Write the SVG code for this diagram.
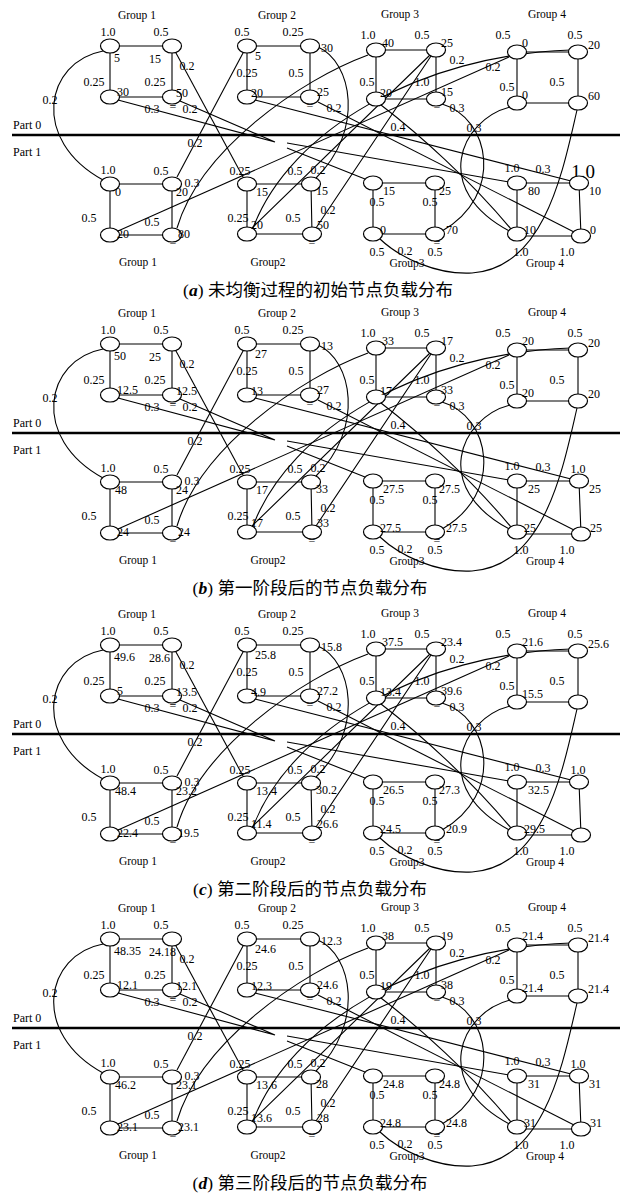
<svg xmlns="http://www.w3.org/2000/svg" xmlns:xlink="http://www.w3.org/1999/xlink" width="620" height="1196" viewBox="0 0 620 1196">
<style>
.t{font-family:"Liberation Serif","Times New Roman",serif;font-size:12px;fill:#000}
.m{text-anchor:middle}
.g{font-size:11.5px}
.cap{font-family:"Liberation Serif","Noto Sans CJK SC",serif;font-size:17.5px;text-anchor:middle;fill:#000}
.c{fill:none;stroke:#000;stroke-width:1.1}
.n{fill:#fff;stroke:#000;stroke-width:1.2}
.pl{stroke:#000;stroke-width:2.6}
</style>
<defs>
<ellipse id="nd" class="n" cx="0" cy="0" rx="9.5" ry="7"/>
<g id="conn" class="c">
<path d="M110,46 H172 V97 H110 Z M247,46 H310 V97 H247 Z M376,50 H436 V99 H376 Z M517,52 H578 V103 H517 Z"/>
<path d="M110,184 H172 V235 H110 Z M247,184 H311 L312,234 H247 Z M373,183 H435 V234 H373 Z M517,183 H579 L581,236 H517 Z"/>
<path d="M103,51 C45,62 30,140 103,180"/>
<path d="M176,53 L243,177"/>
<path d="M118,100 L275,142 M180,101 L275,142"/>
<path d="M287,143 L509,182 M287,148 L365,179"/>
<path d="M243,53 L177,177"/>
<path d="M318,47 C352,62 365,130 316,178"/>
<path d="M255,100 L571,181"/>
<path d="M318,102 L574,232"/>
<path d="M368,55 C300,80 200,150 177,228"/>
<path d="M431,56 L316,228 M430,55 L252,228"/>
<path d="M381,105 C420,135 470,180 511,229"/>
<path d="M442,104 C490,118 505,195 442,231"/>
<path d="M510,107 C460,120 430,190 511,232"/>
<path d="M577,110 C563,170 545,268 472,273 C437,275 400,258 380,239"/>
<path d="M118,231 L509,57"/>
<path d="M253,228 C290,130 420,55 571,50"/>
</g>
<g id="frame">
<line class="pl" x1="12" y1="135" x2="620" y2="135"/>
<g class="t g m">
<text x="137" y="19">Group 1</text><text x="277" y="19">Group 2</text><text x="400" y="18">Group 3</text><text x="547" y="18">Group 4</text>
<text x="138" y="266">Group 1</text><text x="268" y="266">Group2</text><text x="407" y="267">Group3</text><text x="545" y="267">Group 4</text>
</g>
<text class="t" x="13" y="129">Part 0</text>
<text class="t" x="13" y="156">Part 1</text>
<g class="t m">
<text x="108" y="36">1.0</text><text x="161" y="36">0.5</text><text x="94" y="86">0.25</text><text x="155" y="86">0.25</text>
<text x="242" y="36">0.5</text><text x="293" y="36">0.25</text><text x="247" y="77">0.25</text><text x="296" y="77">0.5</text>
<text x="368" y="39">1.0</text><text x="422" y="39">0.5</text><text x="367" y="86">0.5</text><text x="422" y="86">1.0</text>
<text x="503" y="39">0.5</text><text x="575" y="39">0.5</text><text x="507" y="91">0.5</text><text x="557" y="86">0.5</text>
<text x="108" y="174">1.0</text><text x="161" y="175">0.5</text><text x="89" y="222">0.5</text><text x="152" y="226">0.5</text>
<text x="240" y="175">0.25</text><text x="295" y="175">0.5</text><text x="238" y="222">0.25</text><text x="293" y="222">0.5</text>
<text x="377" y="206">0.5</text><text x="430" y="206">0.5</text><text x="377" y="256">0.5</text><text x="435" y="256">0.5</text>
<text x="512" y="172">1.0</text><text x="521" y="256">1.0</text><text x="567" y="256">1.0</text>
<text x="50" y="104">0.2</text><text x="187" y="70">0.2</text><text x="152" y="113">0.3</text><text x="190" y="113">0.2</text>
<text x="195" y="147">0.2</text><text x="334" y="112">0.2</text><text x="457" y="64">0.2</text><text x="493" y="71">0.2</text>
<text x="457" y="112">0.3</text><text x="398" y="131">0.4</text><text x="474" y="132">0.3</text><text x="192" y="187">0.3</text>
<text x="318" y="174">0.2</text><text x="328" y="214">0.2</text><text x="405" y="255">0.2</text><text x="543" y="173">0.3</text>
<text x="173" y="111">=</text><text x="310" y="110">=</text><text x="437" y="111">=</text>
<text x="173" y="247">=</text><text x="312" y="247">=</text><text x="437" y="247">=</text>
</g>
</g>
</defs>
<g id="connectors">
<use href="#conn"/>
<use href="#conn" transform="translate(0,298)"/>
<use href="#conn" transform="translate(0,599)"/>
<use href="#conn" transform="translate(0,893)"/>
</g>
<g id="panel-a">
<use href="#frame"/>
<text class="t m" x="583" y="178" style="font-size:19px">1.0</text>
<g class="t">
<g id="a-A1"><use href="#nd" x="110" y="46"/><text x="114" y="62">5</text></g>
<g id="a-A2"><use href="#nd" x="172" y="46"/><text x="149" y="63">15</text></g>
<g id="a-A3"><use href="#nd" x="110" y="97"/><text x="117" y="96">30</text></g>
<g id="a-A4"><use href="#nd" x="172" y="97"/><text x="176" y="97">50</text></g>
<g id="a-B1"><use href="#nd" x="247" y="46"/><text x="255" y="60">5</text></g>
<g id="a-B2"><use href="#nd" x="310" y="46"/><text x="321" y="52">30</text></g>
<g id="a-B3"><use href="#nd" x="247" y="97"/><text x="251" y="97">20</text></g>
<g id="a-B4"><use href="#nd" x="310" y="97"/><text x="317" y="96">25</text></g>
<g id="a-C1"><use href="#nd" x="376" y="50"/><text x="382" y="47">40</text></g>
<g id="a-C2"><use href="#nd" x="436" y="50"/><text x="441" y="47">25</text></g>
<g id="a-C3"><use href="#nd" x="376" y="99"/><text x="380" y="97">20</text></g>
<g id="a-C4"><use href="#nd" x="436" y="99"/><text x="441" y="96">15</text></g>
<g id="a-D1"><use href="#nd" x="517" y="52"/><text x="522" y="47">0</text></g>
<g id="a-D2"><use href="#nd" x="578" y="52"/><text x="588" y="49">20</text></g>
<g id="a-D3"><use href="#nd" x="517" y="103"/><text x="522" y="99">0</text></g>
<g id="a-D4"><use href="#nd" x="578" y="103"/><text x="588" y="100">60</text></g>
<g id="a-a1"><use href="#nd" x="110" y="184"/><text x="115" y="196">0</text></g>
<g id="a-a2"><use href="#nd" x="172" y="184"/><text x="176" y="196">20</text></g>
<g id="a-a3"><use href="#nd" x="110" y="235"/><text x="117" y="238">20</text></g>
<g id="a-a4"><use href="#nd" x="172" y="235"/><text x="178" y="238">80</text></g>
<g id="a-b1"><use href="#nd" x="247" y="184"/><text x="256" y="196">15</text></g>
<g id="a-b2"><use href="#nd" x="311" y="184"/><text x="316" y="195">15</text></g>
<g id="a-b3"><use href="#nd" x="247" y="234"/><text x="251" y="229">20</text></g>
<g id="a-b4"><use href="#nd" x="312" y="234"/><text x="317" y="229">50</text></g>
<g id="a-c1"><use href="#nd" x="373" y="183"/><text x="383" y="195">15</text></g>
<g id="a-c2"><use href="#nd" x="435" y="183"/><text x="439" y="195">25</text></g>
<g id="a-c3"><use href="#nd" x="373" y="234"/><text x="380" y="234">0</text></g>
<g id="a-c4"><use href="#nd" x="435" y="234"/><text x="446" y="234">70</text></g>
<g id="a-d1"><use href="#nd" x="517" y="183"/><text x="528" y="195">80</text></g>
<g id="a-d2"><use href="#nd" x="579" y="183"/><text x="589" y="195">10</text></g>
<g id="a-d3"><use href="#nd" x="517" y="234"/><text x="524" y="234">10</text></g>
<g id="a-d4"><use href="#nd" x="581" y="236"/><text x="590" y="234">0</text></g>
</g>
<text class="cap" x="318" y="296">(<tspan font-style="italic" font-weight="bold">a</tspan>) 未均衡过程的初始节点负载分布</text>
</g>
<g id="panel-b" transform="translate(0,298)">
<use href="#frame"/>
<text class="t m" x="578" y="175">1.0</text>
<g class="t">
<g id="b-A1"><use href="#nd" x="110" y="46"/><text x="114" y="62">50</text></g>
<g id="b-A2"><use href="#nd" x="172" y="46"/><text x="149" y="63">25</text></g>
<g id="b-A3"><use href="#nd" x="110" y="97"/><text x="117" y="96">12.5</text></g>
<g id="b-A4"><use href="#nd" x="172" y="97"/><text x="176" y="97">12.5</text></g>
<g id="b-B1"><use href="#nd" x="247" y="46"/><text x="255" y="60">27</text></g>
<g id="b-B2"><use href="#nd" x="310" y="46"/><text x="321" y="52">13</text></g>
<g id="b-B3"><use href="#nd" x="247" y="97"/><text x="251" y="97">13</text></g>
<g id="b-B4"><use href="#nd" x="310" y="97"/><text x="317" y="96">27</text></g>
<g id="b-C1"><use href="#nd" x="376" y="50"/><text x="382" y="47">33</text></g>
<g id="b-C2"><use href="#nd" x="436" y="50"/><text x="441" y="47">17</text></g>
<g id="b-C3"><use href="#nd" x="376" y="99"/><text x="380" y="97">17</text></g>
<g id="b-C4"><use href="#nd" x="436" y="99"/><text x="441" y="96">33</text></g>
<g id="b-D1"><use href="#nd" x="517" y="52"/><text x="522" y="47">20</text></g>
<g id="b-D2"><use href="#nd" x="578" y="52"/><text x="588" y="49">20</text></g>
<g id="b-D3"><use href="#nd" x="517" y="103"/><text x="522" y="99">20</text></g>
<g id="b-D4"><use href="#nd" x="578" y="103"/><text x="588" y="100">20</text></g>
<g id="b-a1"><use href="#nd" x="110" y="184"/><text x="115" y="196">48</text></g>
<g id="b-a2"><use href="#nd" x="172" y="184"/><text x="176" y="196">24</text></g>
<g id="b-a3"><use href="#nd" x="110" y="235"/><text x="117" y="238">24</text></g>
<g id="b-a4"><use href="#nd" x="172" y="235"/><text x="178" y="238">24</text></g>
<g id="b-b1"><use href="#nd" x="247" y="184"/><text x="256" y="196">17</text></g>
<g id="b-b2"><use href="#nd" x="311" y="184"/><text x="316" y="195">33</text></g>
<g id="b-b3"><use href="#nd" x="247" y="234"/><text x="251" y="229">17</text></g>
<g id="b-b4"><use href="#nd" x="312" y="234"/><text x="317" y="229">33</text></g>
<g id="b-c1"><use href="#nd" x="373" y="183"/><text x="383" y="195">27.5</text></g>
<g id="b-c2"><use href="#nd" x="435" y="183"/><text x="439" y="195">27.5</text></g>
<g id="b-c3"><use href="#nd" x="373" y="234"/><text x="380" y="234">27.5</text></g>
<g id="b-c4"><use href="#nd" x="435" y="234"/><text x="446" y="234">27.5</text></g>
<g id="b-d1"><use href="#nd" x="517" y="183"/><text x="528" y="195">25</text></g>
<g id="b-d2"><use href="#nd" x="579" y="183"/><text x="589" y="195">25</text></g>
<g id="b-d3"><use href="#nd" x="517" y="234"/><text x="524" y="234">25</text></g>
<g id="b-d4"><use href="#nd" x="581" y="236"/><text x="590" y="234">25</text></g>
</g>
<text class="cap" x="310" y="296">(<tspan font-style="italic" font-weight="bold">b</tspan>) 第一阶段后的节点负载分布</text>
</g>
<g id="panel-c" transform="translate(0,599)">
<use href="#frame"/>
<text class="t m" x="578" y="175">1.0</text>
<g class="t">
<g id="c-A1"><use href="#nd" x="110" y="46"/><text x="114" y="62">49.6</text></g>
<g id="c-A2"><use href="#nd" x="172" y="46"/><text x="149" y="63">28.6</text></g>
<g id="c-A3"><use href="#nd" x="110" y="97"/><text x="117" y="96">5</text></g>
<g id="c-A4"><use href="#nd" x="172" y="97"/><text x="176" y="97">13.5</text></g>
<g id="c-B1"><use href="#nd" x="247" y="46"/><text x="255" y="60">25.8</text></g>
<g id="c-B2"><use href="#nd" x="310" y="46"/><text x="321" y="52">15.8</text></g>
<g id="c-B3"><use href="#nd" x="247" y="97"/><text x="251" y="97">4.9</text></g>
<g id="c-B4"><use href="#nd" x="310" y="97"/><text x="317" y="96">27.2</text></g>
<g id="c-C1"><use href="#nd" x="376" y="50"/><text x="382" y="47">37.5</text></g>
<g id="c-C2"><use href="#nd" x="436" y="50"/><text x="441" y="47">23.4</text></g>
<g id="c-C3"><use href="#nd" x="376" y="99"/><text x="380" y="97">13.4</text></g>
<g id="c-C4"><use href="#nd" x="436" y="99"/><text x="441" y="96">39.6</text></g>
<g id="c-D1"><use href="#nd" x="517" y="52"/><text x="522" y="47">21.6</text></g>
<g id="c-D2"><use href="#nd" x="578" y="52"/><text x="588" y="49">25.6</text></g>
<g id="c-D3"><use href="#nd" x="517" y="103"/><text x="522" y="99">15.5</text></g>
<g id="c-D4"><use href="#nd" x="578" y="103"/></g>
<g id="c-a1"><use href="#nd" x="110" y="184"/><text x="115" y="196">48.4</text></g>
<g id="c-a2"><use href="#nd" x="172" y="184"/><text x="176" y="196">23.2</text></g>
<g id="c-a3"><use href="#nd" x="110" y="235"/><text x="117" y="238">22.4</text></g>
<g id="c-a4"><use href="#nd" x="172" y="235"/><text x="178" y="238">19.5</text></g>
<g id="c-b1"><use href="#nd" x="247" y="184"/><text x="256" y="196">13.4</text></g>
<g id="c-b2"><use href="#nd" x="311" y="184"/><text x="316" y="195">30.2</text></g>
<g id="c-b3"><use href="#nd" x="247" y="234"/><text x="251" y="229">11.4</text></g>
<g id="c-b4"><use href="#nd" x="312" y="234"/><text x="317" y="229">26.6</text></g>
<g id="c-c1"><use href="#nd" x="373" y="183"/><text x="383" y="195">26.5</text></g>
<g id="c-c2"><use href="#nd" x="435" y="183"/><text x="439" y="195">27.3</text></g>
<g id="c-c3"><use href="#nd" x="373" y="234"/><text x="380" y="234">24.5</text></g>
<g id="c-c4"><use href="#nd" x="435" y="234"/><text x="446" y="234">20.9</text></g>
<g id="c-d1"><use href="#nd" x="517" y="183"/><text x="528" y="195">32.5</text></g>
<g id="c-d2"><use href="#nd" x="579" y="183"/></g>
<g id="c-d3"><use href="#nd" x="517" y="234"/><text x="524" y="234">29.5</text></g>
<g id="c-d4"><use href="#nd" x="581" y="236"/></g>
</g>
<text class="cap" x="310" y="296">(<tspan font-style="italic" font-weight="bold">c</tspan>) 第二阶段后的节点负载分布</text>
</g>
<g id="panel-d" transform="translate(0,893)">
<use href="#frame"/>
<text class="t m" x="578" y="175">1.0</text>
<g class="t">
<g id="d-A1"><use href="#nd" x="110" y="46"/><text x="114" y="62">48.35</text></g>
<g id="d-A2"><use href="#nd" x="172" y="46"/><text x="149" y="63">24.18</text></g>
<g id="d-A3"><use href="#nd" x="110" y="97"/><text x="117" y="96">12.1</text></g>
<g id="d-A4"><use href="#nd" x="172" y="97"/><text x="176" y="97">12.1</text></g>
<g id="d-B1"><use href="#nd" x="247" y="46"/><text x="255" y="60">24.6</text></g>
<g id="d-B2"><use href="#nd" x="310" y="46"/><text x="321" y="52">12.3</text></g>
<g id="d-B3"><use href="#nd" x="247" y="97"/><text x="251" y="97">12.3</text></g>
<g id="d-B4"><use href="#nd" x="310" y="97"/><text x="317" y="96">24.6</text></g>
<g id="d-C1"><use href="#nd" x="376" y="50"/><text x="382" y="47">38</text></g>
<g id="d-C2"><use href="#nd" x="436" y="50"/><text x="441" y="47">19</text></g>
<g id="d-C3"><use href="#nd" x="376" y="99"/><text x="380" y="97">19</text></g>
<g id="d-C4"><use href="#nd" x="436" y="99"/><text x="441" y="96">38</text></g>
<g id="d-D1"><use href="#nd" x="517" y="52"/><text x="522" y="47">21.4</text></g>
<g id="d-D2"><use href="#nd" x="578" y="52"/><text x="588" y="49">21.4</text></g>
<g id="d-D3"><use href="#nd" x="517" y="103"/><text x="522" y="99">21.4</text></g>
<g id="d-D4"><use href="#nd" x="578" y="103"/><text x="588" y="100">21.4</text></g>
<g id="d-a1"><use href="#nd" x="110" y="184"/><text x="115" y="196">46.2</text></g>
<g id="d-a2"><use href="#nd" x="172" y="184"/><text x="176" y="196">23.1</text></g>
<g id="d-a3"><use href="#nd" x="110" y="235"/><text x="117" y="238">23.1</text></g>
<g id="d-a4"><use href="#nd" x="172" y="235"/><text x="178" y="238">23.1</text></g>
<g id="d-b1"><use href="#nd" x="247" y="184"/><text x="256" y="196">13.6</text></g>
<g id="d-b2"><use href="#nd" x="311" y="184"/><text x="316" y="195">28</text></g>
<g id="d-b3"><use href="#nd" x="247" y="234"/><text x="251" y="229">13.6</text></g>
<g id="d-b4"><use href="#nd" x="312" y="234"/><text x="317" y="229">28</text></g>
<g id="d-c1"><use href="#nd" x="373" y="183"/><text x="383" y="195">24.8</text></g>
<g id="d-c2"><use href="#nd" x="435" y="183"/><text x="439" y="195">24.8</text></g>
<g id="d-c3"><use href="#nd" x="373" y="234"/><text x="380" y="234">24.8</text></g>
<g id="d-c4"><use href="#nd" x="435" y="234"/><text x="446" y="234">24.8</text></g>
<g id="d-d1"><use href="#nd" x="517" y="183"/><text x="528" y="195">31</text></g>
<g id="d-d2"><use href="#nd" x="579" y="183"/><text x="589" y="195">31</text></g>
<g id="d-d3"><use href="#nd" x="517" y="234"/><text x="524" y="234">31</text></g>
<g id="d-d4"><use href="#nd" x="581" y="236"/><text x="590" y="234">31</text></g>
</g>
<text class="cap" x="310" y="296">(<tspan font-style="italic" font-weight="bold">d</tspan>) 第三阶段后的节点负载分布</text>
</g>
</svg>
